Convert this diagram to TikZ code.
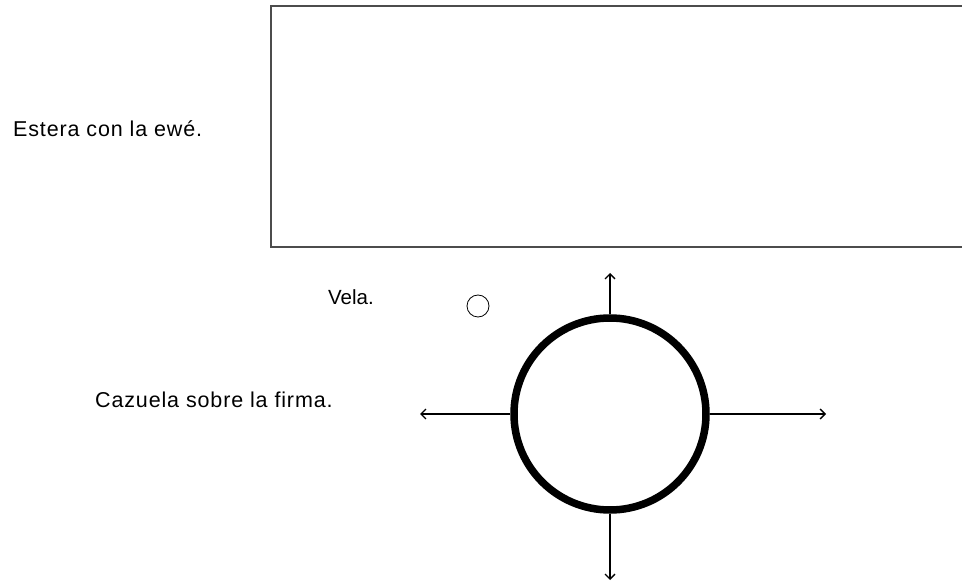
\documentclass[tikz,border=0pt]{standalone}
\usepackage{fontspec}
\setmainfont{Liberation Sans}
\newfontfamily\lblfont[LetterSpace=4]{Liberation Sans}
\usetikzlibrary{arrows.meta}
\begin{document}
\begin{tikzpicture}[x=1pt,y=-1pt,
  lbl/.style={anchor=base west,inner sep=0pt,font=\lblfont\fontsize{21.5}{26}\selectfont},
  ray/.style={line width=1.3pt,-{Straight Barb[length=5pt,width=10pt,line width=1.3pt]}},
  ]
\useasboundingbox (0,0) rectangle (962,585);
\clip (0,0) rectangle (962,585);
\fill[white] (0,0) rectangle (962,585);
\node[draw=black!70,line width=1.6pt,rectangle,anchor=north west,minimum width=720pt,minimum height=241pt,inner sep=0pt] (estera) at (270,5) {};
\node[lbl] (tEstera) at (13,137) {Estera con la ewé.};
\node[lbl,font=\fontsize{20.5}{25}\selectfont] (tVela) at (328,305) {Vela.};
\node[lbl] (tCazuela) at (95,408) {Cazuela sobre la firma.};
\node[draw,circle,line width=0.8pt,minimum size=22pt,inner sep=0pt] (vela) at (478,306) {};
\node[draw,circle,line width=7.5pt,minimum size=192pt,inner sep=0pt] (cazuela) at (610,414) {};
\coordinate (n) at (610,273);
\coordinate (s) at (610,580);
\coordinate (w) at (420,414);
\coordinate (e) at (826,414);
\draw[ray] (cazuela.north) -- (n);
\draw[ray] (cazuela.south) -- (s);
\draw[ray] (cazuela.west) -- (w);
\draw[ray] (cazuela.east) -- (e);
\end{tikzpicture}
\end{document}
